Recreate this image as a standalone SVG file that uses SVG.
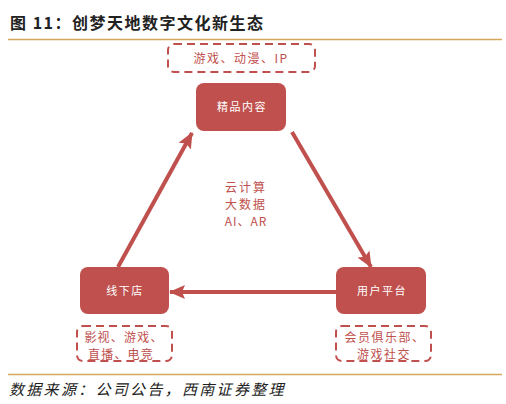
<svg xmlns="http://www.w3.org/2000/svg" width="506" height="404" viewBox="0 0 506 404">
<defs>
<style>
.t{font-family:"Noto Sans CJK SC","Noto Sans",sans-serif}
.box{fill:#c0504d;stroke:none}
.dash{fill:none;stroke:#c0504d;stroke-width:2;stroke-dasharray:8,5}
.wt{fill:#ffffff;font-size:11px;letter-spacing:1.5px;text-anchor:middle}
.rt{fill:#c0504d;font-size:12px;text-anchor:middle}
.conn{stroke:#c0504d;stroke-width:4;fill:none}
</style>
<marker id="ah" markerUnits="userSpaceOnUse" markerWidth="16" markerHeight="16" viewBox="0 0 16 16" refX="15" refY="8" orient="auto">
<path d="M0,1 L16,8 L0,15 L3,8 Z" fill="#c0504d"/>
</marker>
</defs>
<rect width="506" height="404" fill="#ffffff"/>
<text class="t" x="10" y="29" font-size="16" font-weight="bold" letter-spacing="1.5" fill="#222">图 11：创梦天地数字文化新生态</text>
<line x1="8" y1="39.5" x2="502" y2="39.5" stroke="#d6a85e" stroke-width="1.6"/>
<g id="conns">
<line class="conn" x1="118" y1="267" x2="192" y2="133" marker-end="url(#ah)"/>
<line class="conn" x1="292" y1="132" x2="371" y2="267" marker-end="url(#ah)"/>
<line class="conn" x1="336" y1="292" x2="170" y2="292" marker-end="url(#ah)"/>
</g>
<g id="top-tags">
<rect class="dash" x="168" y="44" width="147" height="28" rx="6"/>
<text class="t rt" x="241" y="63" letter-spacing="1.5">游戏、动漫、IP</text>
</g>
<g id="node-content">
<rect class="box" x="196" y="83" width="90" height="48" rx="8"/>
<text class="t wt" x="242" y="111">精品内容</text>
</g>
<g id="center-tech">
<text class="t rt" x="246" y="192" letter-spacing="2">云计算</text>
<text class="t rt" x="246" y="209" letter-spacing="2">大数据</text>
<text class="t rt" x="246" y="226" letter-spacing="1">AI、AR</text>
</g>
<g id="node-offline">
<rect class="box" x="80" y="267" width="89" height="47" rx="8"/>
<text class="t wt" x="125" y="295">线下店</text>
</g>
<g id="node-platform">
<rect class="box" x="336" y="267" width="90" height="47" rx="8"/>
<text class="t wt" x="382" y="295">用户平台</text>
</g>
<g id="offline-tags">
<rect class="dash" x="77" y="326" width="95" height="35" rx="6"/>
<text class="t rt" x="124" y="342" letter-spacing="1.2">影视、游戏、</text>
<text class="t rt" x="121" y="359" letter-spacing="1.2">直播、电竞</text>
</g>
<g id="platform-tags">
<rect class="dash" x="336" y="326" width="95" height="35" rx="6"/>
<text class="t rt" x="385" y="342" font-size="13" letter-spacing="1.5">会员俱乐部、</text>
<text class="t rt" x="384" y="359" font-size="13" letter-spacing="1.5">游戏社交</text>
</g>
<line x1="8" y1="374.5" x2="502" y2="374.5" stroke="#d6a85e" stroke-width="1.6"/>
<text class="t" x="9" y="395" font-size="15" font-style="italic" letter-spacing="2.3" fill="#222">数据来源：公司公告，西南证券整理</text>
</svg>
